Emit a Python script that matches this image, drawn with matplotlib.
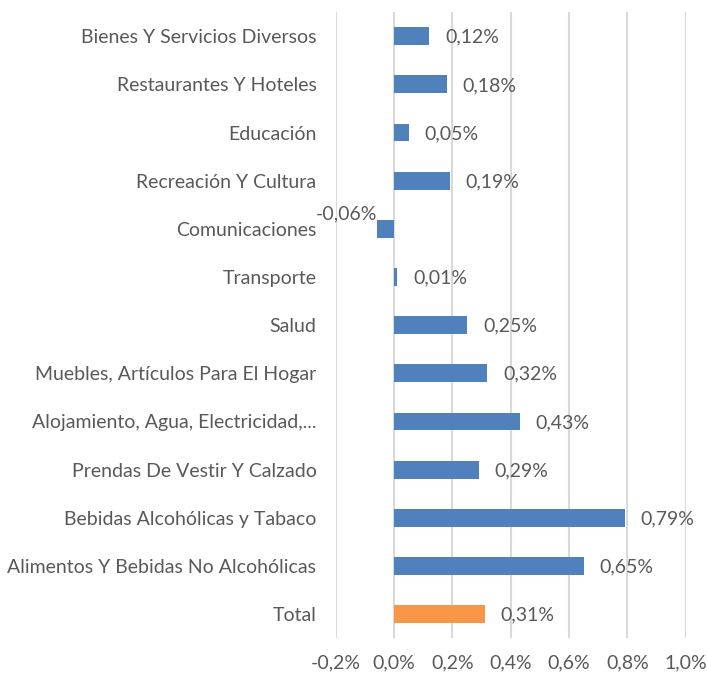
import matplotlib.pyplot as plt
from matplotlib.ticker import FuncFormatter

# categories from bottom to top
categorias = [
    "Total",
    "Alimentos Y Bebidas No Alcohólicas",
    "Bebidas Alcohólicas y Tabaco",
    "Prendas De Vestir Y Calzado",
    "Alojamiento, Agua, Electricidad,...",
    "Muebles, Artículos Para El Hogar",
    "Salud",
    "Transporte",
    "Comunicaciones",
    "Recreación Y Cultura",
    "Educación",
    "Restaurantes Y Hoteles",
    "Bienes Y Servicios Diversos",
]
variacion = [0.31, 0.65, 0.79, 0.29, 0.43, 0.32, 0.25, 0.01, -0.06, 0.19, 0.05, 0.18, 0.12]

azul = "#4F81BD"
naranja = "#F79646"
gris_texto = "#595959"

plt.rcParams['font.family'] = ['Lato', 'DejaVu Sans']

fig = plt.figure(figsize=(7.07, 6.76), dpi=100)
ax = fig.add_axes([0.475, 0.056, 0.495, 0.926])

y = range(len(categorias))
colores = [naranja] + [azul] * (len(categorias) - 1)
ax.barh(y, variacion, height=0.37, color=colores, zorder=3)

ax.set_xlim(-0.2, 1.0)
ax.set_ylim(-0.5, len(categorias) - 0.5)
ax.set_xticks([-0.2, 0.0, 0.2, 0.4, 0.6, 0.8, 1.0])
ax.xaxis.set_major_formatter(FuncFormatter(lambda v, p: f"{v:.1f}%".replace(".", ",")))
ax.set_yticks(list(y))
ax.set_yticklabels(categorias)
ax.tick_params(axis='both', length=0, labelsize=14, colors=gris_texto)
ax.tick_params(axis='y', pad=14)
ax.tick_params(axis='x', pad=12)
ax.grid(axis='x', color="#D9D9D9", linewidth=1.5, zorder=0)
for s in ax.spines.values():
    s.set_visible(False)

for i, v in enumerate(variacion):
    txt = f"{v:.2f}%".replace(".", ",")
    if v >= 0:
        ax.annotate(txt, (v, i), xytext=(16, -1), textcoords="offset pixels",
                    ha="left", va="center", fontsize=14, color=gris_texto)
    else:
        ax.annotate(txt, (v, i), xytext=(0, 15), textcoords="offset pixels",
                    ha="right", va="center", fontsize=14, color=gris_texto)

fig.savefig("out.png", dpi=100)
